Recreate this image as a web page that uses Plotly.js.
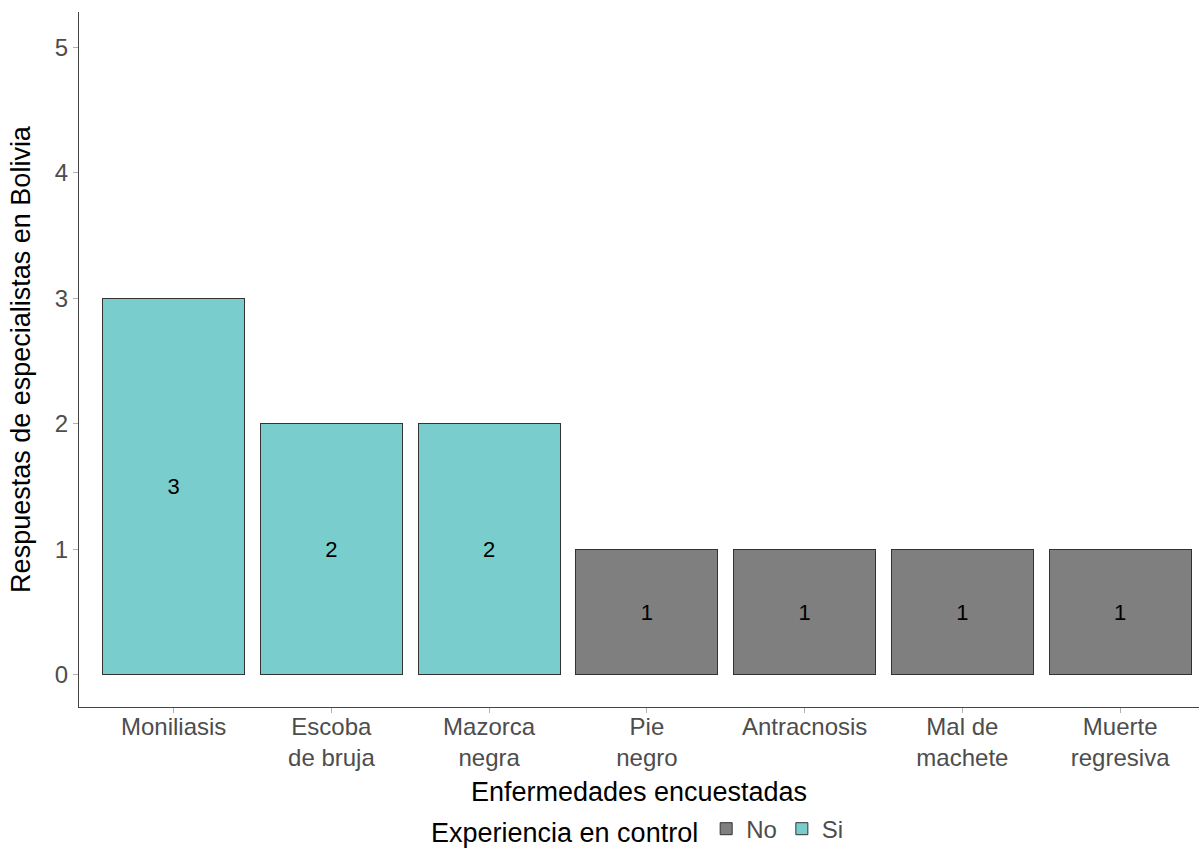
<!DOCTYPE html>
<html>
<head>
<meta charset="utf-8">
<script src="https://cdn.plot.ly/plotly-3.0.1.min.js"></script>
<style>html,body{margin:0;padding:0;background:#fff;}#chart{width:1201px;height:850px;}</style>
</head>
<body>
<div id="chart"></div>
<script>
const categories = ["Moniliasis", "Escoba<br>de bruja", "Mazorca<br>negra", "Pie<br>negro", "Antracnosis", "Mal de<br>machete", "Muerte<br>regresiva"];
const noCategories = ["Pie<br>negro", "Antracnosis", "Mal de<br>machete", "Muerte<br>regresiva"];
const noValues = [1, 1, 1, 1];
const siCategories = ["Moniliasis", "Escoba<br>de bruja", "Mazorca<br>negra"];
const siValues = [3, 2, 2];

const font = "Liberation Sans, Arial, sans-serif";
const common = {
  type: "bar",
  width: 0.9,
  textposition: "inside",
  insidetextanchor: "middle",
  textangle: 0,
  textfont: {family: font, size: 22, color: "#000000"},
  hoverinfo: "x+y"
};
const traces = [
  Object.assign({}, common, {
    name: "No", x: noCategories, y: noValues, text: noValues.map(String),
    marker: {color: "#7f7f7f", line: {color: "#333333", width: 1}}
  }),
  Object.assign({}, common, {
    name: "Si", x: siCategories, y: siValues, text: siValues.map(String),
    marker: {color: "#79cdcd", line: {color: "#333333", width: 1}}
  })
];

const layout = {
  width: 1201, height: 850,
  margin: {l: 79, r: 2, t: 12, b: 143},
  paper_bgcolor: "#ffffff", plot_bgcolor: "#ffffff",
  barmode: "stack",
  font: {family: font},
  showlegend: true,
  legend: {
    orientation: "h", x: 0.5, xanchor: "center",
    yref: "container", y: 0.024, yanchor: "middle",
    title: {text: "Experiencia en control", font: {size: 27, color: "#000000"}, side: "left"},
    font: {size: 24, color: "#4d4d4d"},
    traceorder: "normal", itemwidth: 30
  },
  xaxis: {
    type: "category",
    categoryorder: "array", categoryarray: categories,
    range: [-0.6, 6.5],
    showline: true, linecolor: "#444444", linewidth: 1,
    ticks: "outside", ticklen: 5, tickcolor: "#b0b0b0",
    tickfont: {size: 24, color: "#4d4d4d"},
    ticklabelstandoff: -7,
    showgrid: false, zeroline: false,
    title: {text: "Enfermedades encuestadas", font: {size: 27, color: "#000000"}, standoff: 18},
    automargin: false
  },
  yaxis: {
    range: [-0.255, 5.28],
    tickvals: [0, 1, 2, 3, 4, 5],
    showline: true, linecolor: "#444444", linewidth: 1,
    ticks: "outside", ticklen: 5, tickcolor: "#b0b0b0",
    tickfont: {size: 24, color: "#4d4d4d"},
    showgrid: false, zeroline: false,
    title: {text: "Respuestas de especialistas en Bolivia", font: {size: 27, color: "#000000"}, standoff: 16},
    automargin: false
  }
};
Plotly.newPlot("chart", traces, layout, {displayModeBar: false, staticPlot: true});
</script>
</body>
</html>
